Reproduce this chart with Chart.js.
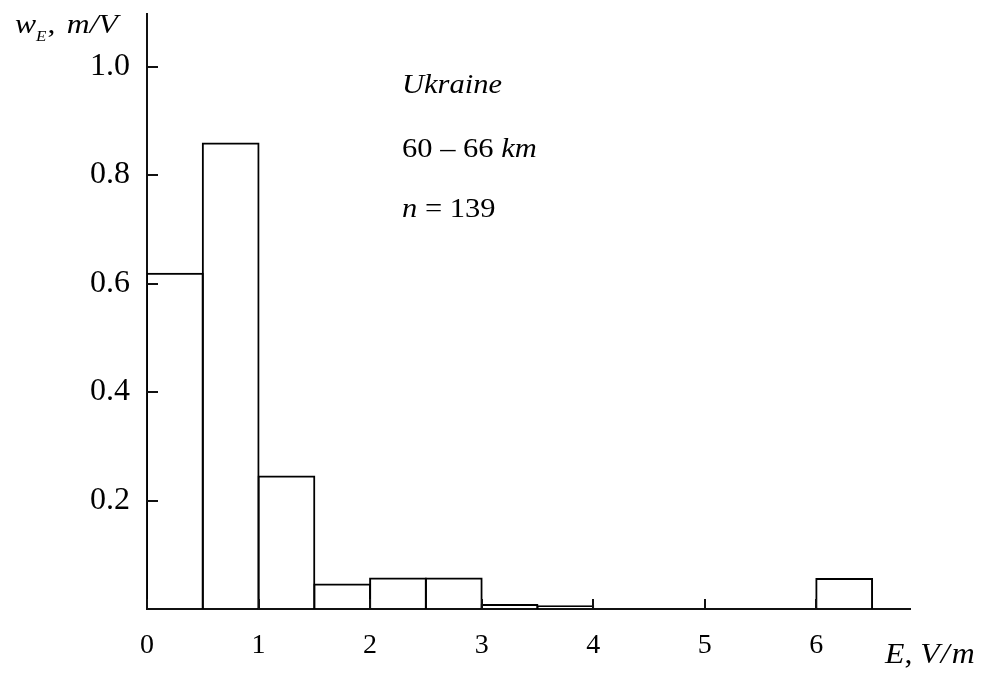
<!DOCTYPE html>
<html>
<head>
<meta charset="utf-8">
<script src="https://cdn.jsdelivr.net/npm/chart.js@4/dist/chart.umd.min.js"></script>
<style>
  html, body { margin: 0; padding: 0; background: #fff; }
  #wrap { width: 985px; height: 673px; }
</style>
</head>
<body>
<div id="wrap"><canvas id="c" width="985" height="673"></canvas></div>
<script>
// ---- data ----
const binLeft   = [0, 0.5, 1, 1.5, 2, 2.5, 3, 3.5, 6];          // E, V/m (left edge of each bin)
const binWidth  = 0.5;
const density   = [0.62, 0.86, 0.246, 0.047, 0.058, 0.058, 0.009, 0.007, 0.057]; // w_E, m/V
const xTicks    = [0, 1, 2, 3, 4, 5, 6];
const yTicks    = [0.2, 0.4, 0.6, 0.8, 1.0];
const noteTitle = 'Ukraine';
const noteRange = ['60 \u2013 66 ', 'km'];
const noteCount = ['n', ' = 139'];

const points = binLeft.map((l, i) => ({ x: l + binWidth / 2, y: density[i] }));

const SERIF = '"Liberation Serif", "Times New Roman", serif';

const decor = {
  id: 'decor',
  afterDraw(chart) {
    const { ctx, scales: { x, y } } = chart;
    ctx.save();
    // inward tick marks
    ctx.strokeStyle = '#111';
    ctx.lineWidth = 2;
    const x0 = x.getPixelForValue(0);
    const y0 = y.getPixelForValue(0);
    yTicks.forEach(v => {
      const py = Math.round(y.getPixelForValue(v));
      ctx.beginPath(); ctx.moveTo(x0, py); ctx.lineTo(x0 + 11, py); ctx.stroke();
    });
    xTicks.forEach(v => {
      const px = Math.round(x.getPixelForValue(v));
      ctx.beginPath(); ctx.moveTo(px, y0); ctx.lineTo(px, y0 - 10); ctx.stroke();
    });

    ctx.fillStyle = '#000';
    ctx.textBaseline = 'alphabetic';
    ctx.textAlign = 'left';
    const run = (parts, startX, baseY, sx) => {
      ctx.save();
      ctx.translate(startX, baseY);
      ctx.scale(sx, 1);
      let cx = 0;
      parts.forEach(p => {
        ctx.font = p.font;
        ctx.fillText(p.t, cx, p.dy || 0);
        cx += ctx.measureText(p.t).width + (p.gap || 0);
      });
      ctx.restore();
    };
    const it = s => 'italic ' + s + 'px ' + SERIF;
    const rm = s => s + 'px ' + SERIF;

    // annotations
    run([{ t: noteTitle, font: it(27) }], 402, 93, 1.13);
    run([{ t: noteRange[0], font: rm(27) }, { t: noteRange[1], font: it(27) }], 402, 157, 1.13);
    run([{ t: noteCount[0], font: it(27) }, { t: noteCount[1], font: rm(27) }], 402, 217, 1.13);

    // y-axis title  w_E, m/V
    run([{ t: 'w', font: it(28) }, { t: 'E', font: it(15), dy: 8, gap: 1 },
         { t: ', ', font: rm(28), gap: 3 }, { t: 'm/V', font: it(28) }], 15, 33, 1.13);
    // x-axis title  E, V/m
    run([{ t: 'E', font: it(30) }, { t: ', ', font: rm(30) }, { t: 'V', font: it(30), gap: 1 },
         { t: '/', font: it(30), gap: 2 }, { t: 'm', font: it(30) }], 885, 663, 1.06);
    ctx.restore();
  }
};

new Chart(document.getElementById('c'), {
  type: 'bar',
  data: {
    datasets: [{
      data: points,
      backgroundColor: 'rgba(255,255,255,0)',
      borderColor: '#000',
      borderWidth: 2,
      barPercentage: 1.036,
      categoryPercentage: 1
    }]
  },
  options: {
    responsive: false,
    animation: false,
    devicePixelRatio: 1,
    layout: { padding: { top: 14, right: 75, left: 0, bottom: 0 } },
    plugins: { legend: { display: false }, tooltip: { enabled: false } },
    scales: {
      x: {
        type: 'linear', min: 0, max: 6.84, offset: false,
        grid: { display: false, drawTicks: false },
        border: { display: true, color: '#111', width: 2 },
        ticks: {
          stepSize: 1, includeBounds: false, autoSkip: false, maxRotation: 0,
          color: '#000', font: { family: SERIF, size: 28 }, padding: 20,
          callback: v => Number.isInteger(v) ? String(v) : ''
        },
        afterFit: s => { s.height = 64; s.paddingLeft = 0; s.paddingRight = 0; }
      },
      y: {
        min: 0, max: 1.097,
        grid: { display: false, drawTicks: false },
        border: { display: true, color: '#111', width: 2 },
        ticks: {
          stepSize: 0.2, includeBounds: false, autoSkip: false,
          color: '#000', font: { family: SERIF, size: 32 }, padding: 17,
          callback: v => (Math.abs(v) < 1e-9 ? '' : v.toFixed(1))
        },
        afterFit: s => { s.width = 147; s.paddingTop = 0; s.paddingBottom = 0; }
      }
    }
  },
  plugins: [decor]
});
</script>
</body>
</html>
